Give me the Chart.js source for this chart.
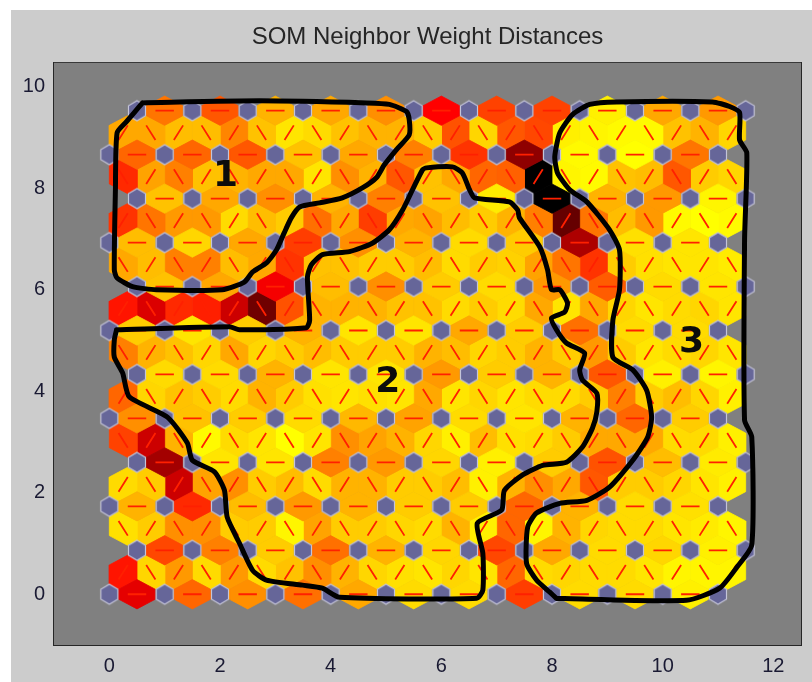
<!DOCTYPE html>
<html><head><meta charset="utf-8">
<style>
html,body{margin:0;padding:0;background:#fff;width:812px;height:682px;overflow:hidden}
#fig{position:absolute;left:11px;top:10px;width:801px;height:672px;background:#ccc}
canvas{position:absolute;left:0;top:0}
</style>
<script src="https://cdn.jsdelivr.net/npm/chart.js@4/dist/chart.umd.js"></script>
</head><body><div id="fig"></div><canvas id="c" width="812" height="682"></canvas>
<script>
const titleText = "SOM Neighbor Weight Distances";
const xTicks = [0,2,4,6,8,10,12];
const yTicks = [0,2,4,6,8,10];

// normalised neighbour distances, horizontal links, row 0 (bottom) .. row 11 (top)
const hRow0  = [.55,.30,.22,.28,.17,.07,.07,.38,.07,.07,.03];
const hRow1  = [.36,.25,.10,.28,.15,.08,.36,.17,.07,.08,.03];
const hRow2  = [.15,.42,.13,.20,.15,.10,.10,.30,.15,.07,.06];
const hRow3  = [.68,.05,.05,.25,.20,.08,.03,.10,.34,.13,.04];
const hRow4  = [.22,.12,.10,.07,.14,.18,.07,.05,.15,.30,.10];
const hRow5  = [.07,.07,.15,.05,.05,.20,.10,.15,.33,.03,.02];
const hRow6  = [.10,.05,.10,.15,.05,.05,.17,.10,.28,.07,.07];
const hRow7  = [.12,.17,.52,.13,.22,.10,.07,.20,.32,.07,.05];
const hRow8  = [.13,.08,.17,.38,.22,.15,.07,.10,.66,.06,.05];
const hRow9  = [.12,.17,.22,.15,.25,.12,.04,1.0,.15,.20,.02];
const hRow10 = [.30,.30,.33,.12,.17,.25,.40,.72,.01,.00,.27];
const hRow11 = [.27,.33,.15,.17,.22,.50,.37,.37,.03,.17,.20];

// diagonal links between row r and row r+1, left to right
const dRow0  = [.46,.08,.20,.07,.20,.07,.12,.22,.15,.08,.06,.05,.08,.05,.30,.07,.08,.07,.07,.05,.02,.02,.02];
const dRow1  = [.06,.10,.22,.22,.10,.10,.02,.18,.10,.10,.08,.07,.15,.03,.30,.02,.15,.08,.07,.07,.05,.04,.02];
const dRow2  = [.07,.10,.60,.18,.22,.10,.13,.07,.15,.15,.10,.10,.13,.03,.15,.22,.17,.33,.10,.10,.08,.05,.03];
const dRow3  = [.37,.60,.15,.01,.07,.05,.00,.05,.22,.18,.15,.08,.03,.13,.06,.07,.10,.17,.17,.17,.07,.07,.03];
const dRow4  = [.30,.08,.12,.10,.07,.15,.10,.06,.05,.06,.05,.17,.05,.08,.05,.07,.07,.10,.25,.10,.13,.08,.03];
const dRow5  = [.25,.15,.12,.08,.17,.08,.10,.13,.10,.10,.10,.15,.13,.08,.10,.15,.10,.20,.10,.05,.07,.08,.05];
const dRow6  = [.46,.57,.42,.44,.60,.78,.34,.15,.15,.15,.12,.12,.07,.10,.07,.17,.05,.17,.08,.05,.07,.08,.05];
const dRow7  = [.17,.13,.25,.25,.13,.17,.40,.12,.12,.10,.10,.13,.07,.10,.09,.18,.27,.40,.10,.06,.05,.05,.04];
const dRow8  = [.40,.27,.20,.20,.07,.13,.10,.28,.17,.38,.17,.18,.13,.10,.15,.25,.80,.27,.13,.20,.01,.00,.01];
const dRow9  = [.42,.18,.25,.12,.15,.17,.17,.05,.22,.15,.33,.12,.17,.30,.31,1.0,.02,.01,.12,.13,.33,.10,.08];
const dRow10 = [.17,.17,.13,.13,.24,.12,.05,.07,.12,.15,.15,.10,.34,.08,.33,.36,.03,.02,.01,.01,.12,.15,.08];

// hand-drawn cluster outlines, data units
const cluster1X = [.60,2.71,4.65,5.06,5.37,5.42,5.42,5.19,4.97,4.83,4.58,4.21,3.80,3.44,3.29,3.16,3.02,2.84,2.59,2.44,2.04,.85,.42,.14,.09,.11,.14,.31,.45,.60];
const cluster1Y = [9.68,9.72,9.68,9.65,9.51,9.35,9.05,8.76,8.46,8.21,8.01,7.81,7.71,7.63,7.42,7.12,6.78,6.53,6.35,6.15,6.00,6.00,6.06,6.23,6.39,7.97,9.09,9.31,9.49,9.68];
const cluster2X = [.13,2.17,2.35,3.56,3.62,3.58,3.65,3.85,4.34,4.76,5.06,5.30,5.48,5.66,5.73,6.20,6.38,6.51,6.60,7.23,7.38,7.41,7.78,7.92,7.99,8.14,8.28,8.23,7.99,8.08,8.26,8.59,8.50,8.55,8.81,8.81,8.73,8.55,8.26,7.83,7.47,7.14,7.09,6.65,6.75,6.75,6.64,4.16,3.85,3.49,2.84,2.59,2.35,2.13,2.08,1.90,1.50,1.41,1.05,.36,.24,.09,.09,.13];
const cluster2Y = [5.21,5.27,5.21,5.25,5.40,6.25,6.49,6.69,6.75,6.92,7.18,7.57,7.97,8.36,8.40,8.42,8.30,7.97,7.81,7.73,7.57,7.42,6.84,6.39,6.00,6.00,5.74,5.56,5.44,5.21,4.95,4.75,4.42,4.22,3.96,3.59,3.27,2.90,2.60,2.54,2.35,2.05,1.66,1.40,.81,.08,-.08,-.06,.12,.18,.28,.47,1.01,1.52,2.05,2.41,2.64,2.98,3.49,3.89,4.36,4.67,5.01,5.21];
const cluster3X = [8.08,10.43,11.03,11.34,11.61,11.61,11.48,11.48,11.52,11.39,11.39,11.21,10.90,9.17,8.68,8.37,8.14,8.05,8.10,8.32,8.63,9.04,9.22,9.22,9.10,9.10,9.46,9.71,9.80,9.73,9.46,9.04,8.63,8.14,7.72,7.56,7.54,7.72,7.96,8.08];
const cluster3Y = [-.08,-.12,.12,.53,.97,3.10,3.43,6.98,8.70,8.95,9.49,9.61,9.70,9.70,9.65,9.45,9.09,8.62,8.30,7.97,7.73,7.18,6.78,6.00,5.40,4.67,4.42,4.02,3.49,3.10,2.64,2.11,1.85,1.79,1.60,1.32,.61,.28,.04,-.08];
const clusterLabels = ["1","2","3"];
const clusterLabelX = [2.10,5.03,10.52];
const clusterLabelY = [8.22,4.16,4.95];

const hRows = [hRow0,hRow1,hRow2,hRow3,hRow4,hRow5,hRow6,hRow7,hRow8,hRow9,hRow10,hRow11];
const dRows = [dRow0,dRow1,dRow2,dRow3,dRow4,dRow5,dRow6,dRow7,dRow8,dRow9,dRow10];
const ROW = Math.sqrt(.75);

function hot(d){
  const L = 1-d;
  return `rgb(${Math.round(255*Math.min(L*2,1))},${Math.round(255*Math.max(L*2-1,0))},0)`;
}
const H_SHAPE = [[-.327,-.1],[0,-.289],[.327,-.1],[.327,.1],[0,.289],[-.327,.1]];
const S_SHAPE = [[-.25,-.233],[-.077,-.333],[.25,-.144],[.25,.233],[.077,.333],[-.25,.144]];

const patches = [], segs = [], neurons = [];
function addPatch(cx,cy,shape,flip,d){
  const pts = shape.map(p=>({x:cx+(flip?-p[0]:p[0]),y:cy+p[1]}));
  pts.push(pts[0]);
  const c = hot(d);
  patches.push({data:pts,showLine:true,fill:'shape',backgroundColor:c,borderColor:c,borderWidth:.8,pointRadius:0,tension:0});
}
hRows.forEach((row,r)=>row.forEach((d,j)=>{
  const cx=(r%2?1:.5)+j, cy=r*ROW;
  addPatch(cx,cy,H_SHAPE,false,d);
  segs.push({x:cx-1/6,y:cy},{x:cx+1/6,y:cy},{x:NaN,y:NaN});
}));
dRows.forEach((row,r)=>row.forEach((d,i)=>{
  const cx=.25+.5*i, cy=(r+.5)*ROW, slash=(r+i)%2===0;
  addPatch(cx,cy,S_SHAPE,!slash,d);
  const dx=(slash?1:-1)/12, dy=ROW/6;
  segs.push({x:cx-dx,y:cy-dy},{x:cx+dx,y:cy+dy},{x:NaN,y:NaN});
}));
for(let r=0;r<12;r++)for(let c=0;c<12;c++)neurons.push({x:c+(r%2?.5:0),y:r*ROW});

// neuron marker
const mk=document.createElement('canvas');mk.width=22;mk.height=24;
{const g=mk.getContext('2d');g.beginPath();
 [[11,2],[19.5,7],[19.5,17],[11,22],[2.5,17],[2.5,7]].forEach((p,i)=>i?g.lineTo(p[0],p[1]):g.moveTo(p[0],p[1]));
 g.closePath();g.fillStyle='#666699';g.fill();g.strokeStyle='#c4c4d8';g.lineWidth=1.2;g.stroke();}

const zip=(X,Y)=>X.map((x,i)=>({x,y:Y[i]}));
const outline=(X,Y)=>({data:zip(X,Y),showLine:true,borderColor:'#000',borderWidth:5,pointRadius:0,tension:.2,borderJoinStyle:'round',borderCapStyle:'round',fill:false});

const datasets=[
  outline(cluster1X,cluster1Y),outline(cluster2X,cluster2Y),outline(cluster3X,cluster3Y),
  {data:neurons,showLine:false,pointStyle:mk,pointRadius:10,backgroundColor:'#666699',borderWidth:0},
  {data:segs,showLine:true,spanGaps:false,borderColor:'#ff2000',borderWidth:1.8,pointRadius:0,fill:false},
  ...patches
];

const bg={id:'bg',beforeDatasetsDraw(ch){const a=ch.chartArea,g=ch.ctx;g.save();g.fillStyle='#808080';g.fillRect(a.left,a.top,a.width,a.height);g.restore();},
 afterDatasetsDraw(ch){const g=ch.ctx;g.save();g.fillStyle='#0c0c0c';g.font='bold 36px "DejaVu Sans"';g.textAlign='center';g.textBaseline='middle';
  clusterLabels.forEach((t,i)=>g.fillText(t,ch.scales.x.getPixelForValue(clusterLabelX[i]),ch.scales.y.getPixelForValue(clusterLabelY[i])));g.restore();}};

const ink='#262626';
const grid={drawOnChartArea:false,drawTicks:true,tickLength:-8,tickColor:ink,tickWidth:1.5};
const border={display:true,color:ink,width:2};
const tickFont={family:'"Liberation Sans"',size:20};
const axis=(min,max,ticks,pos,extra)=>Object.assign({type:'linear',position:pos,min,max,grid,border,
  afterBuildTicks:s=>{s.ticks=ticks.map(value=>({value}));}},extra);

new Chart(document.getElementById('c'),{type:'scatter',data:{datasets},plugins:[bg],options:{
  responsive:false,animation:false,events:[],
  layout:{padding:{left:0,right:11,top:0,bottom:0}},
  plugins:{legend:{display:false},tooltip:{enabled:false},
    title:{display:true,fullSize:false,text:titleText,color:ink,font:{family:'"Liberation Sans"',size:24,weight:'normal'},padding:{top:23,bottom:11},position:'top',align:'center'}},
  scales:{
    x:axis(-1,12.5,xTicks,'bottom',{ticks:{color:'#1a1a33',font:tickFont,padding:17,maxRotation:0,autoSkip:false,callback:v=>String(v)},afterFit:s=>{s.height=37;}}),
    y:axis(-1,10.47,yTicks,'left',{ticks:{color:'#1a1a33',font:tickFont,padding:17,autoSkip:false,callback:v=>String(v)},afterFit:s=>{s.width=54;}}),
    x2:axis(-1,12.5,xTicks,'top',{ticks:{display:false},afterFit:s=>{s.height=0;}}),
    y2:axis(-1,10.47,yTicks,'right',{ticks:{display:false},afterFit:s=>{s.width=0;}})
  }
}});
</script></body></html>
